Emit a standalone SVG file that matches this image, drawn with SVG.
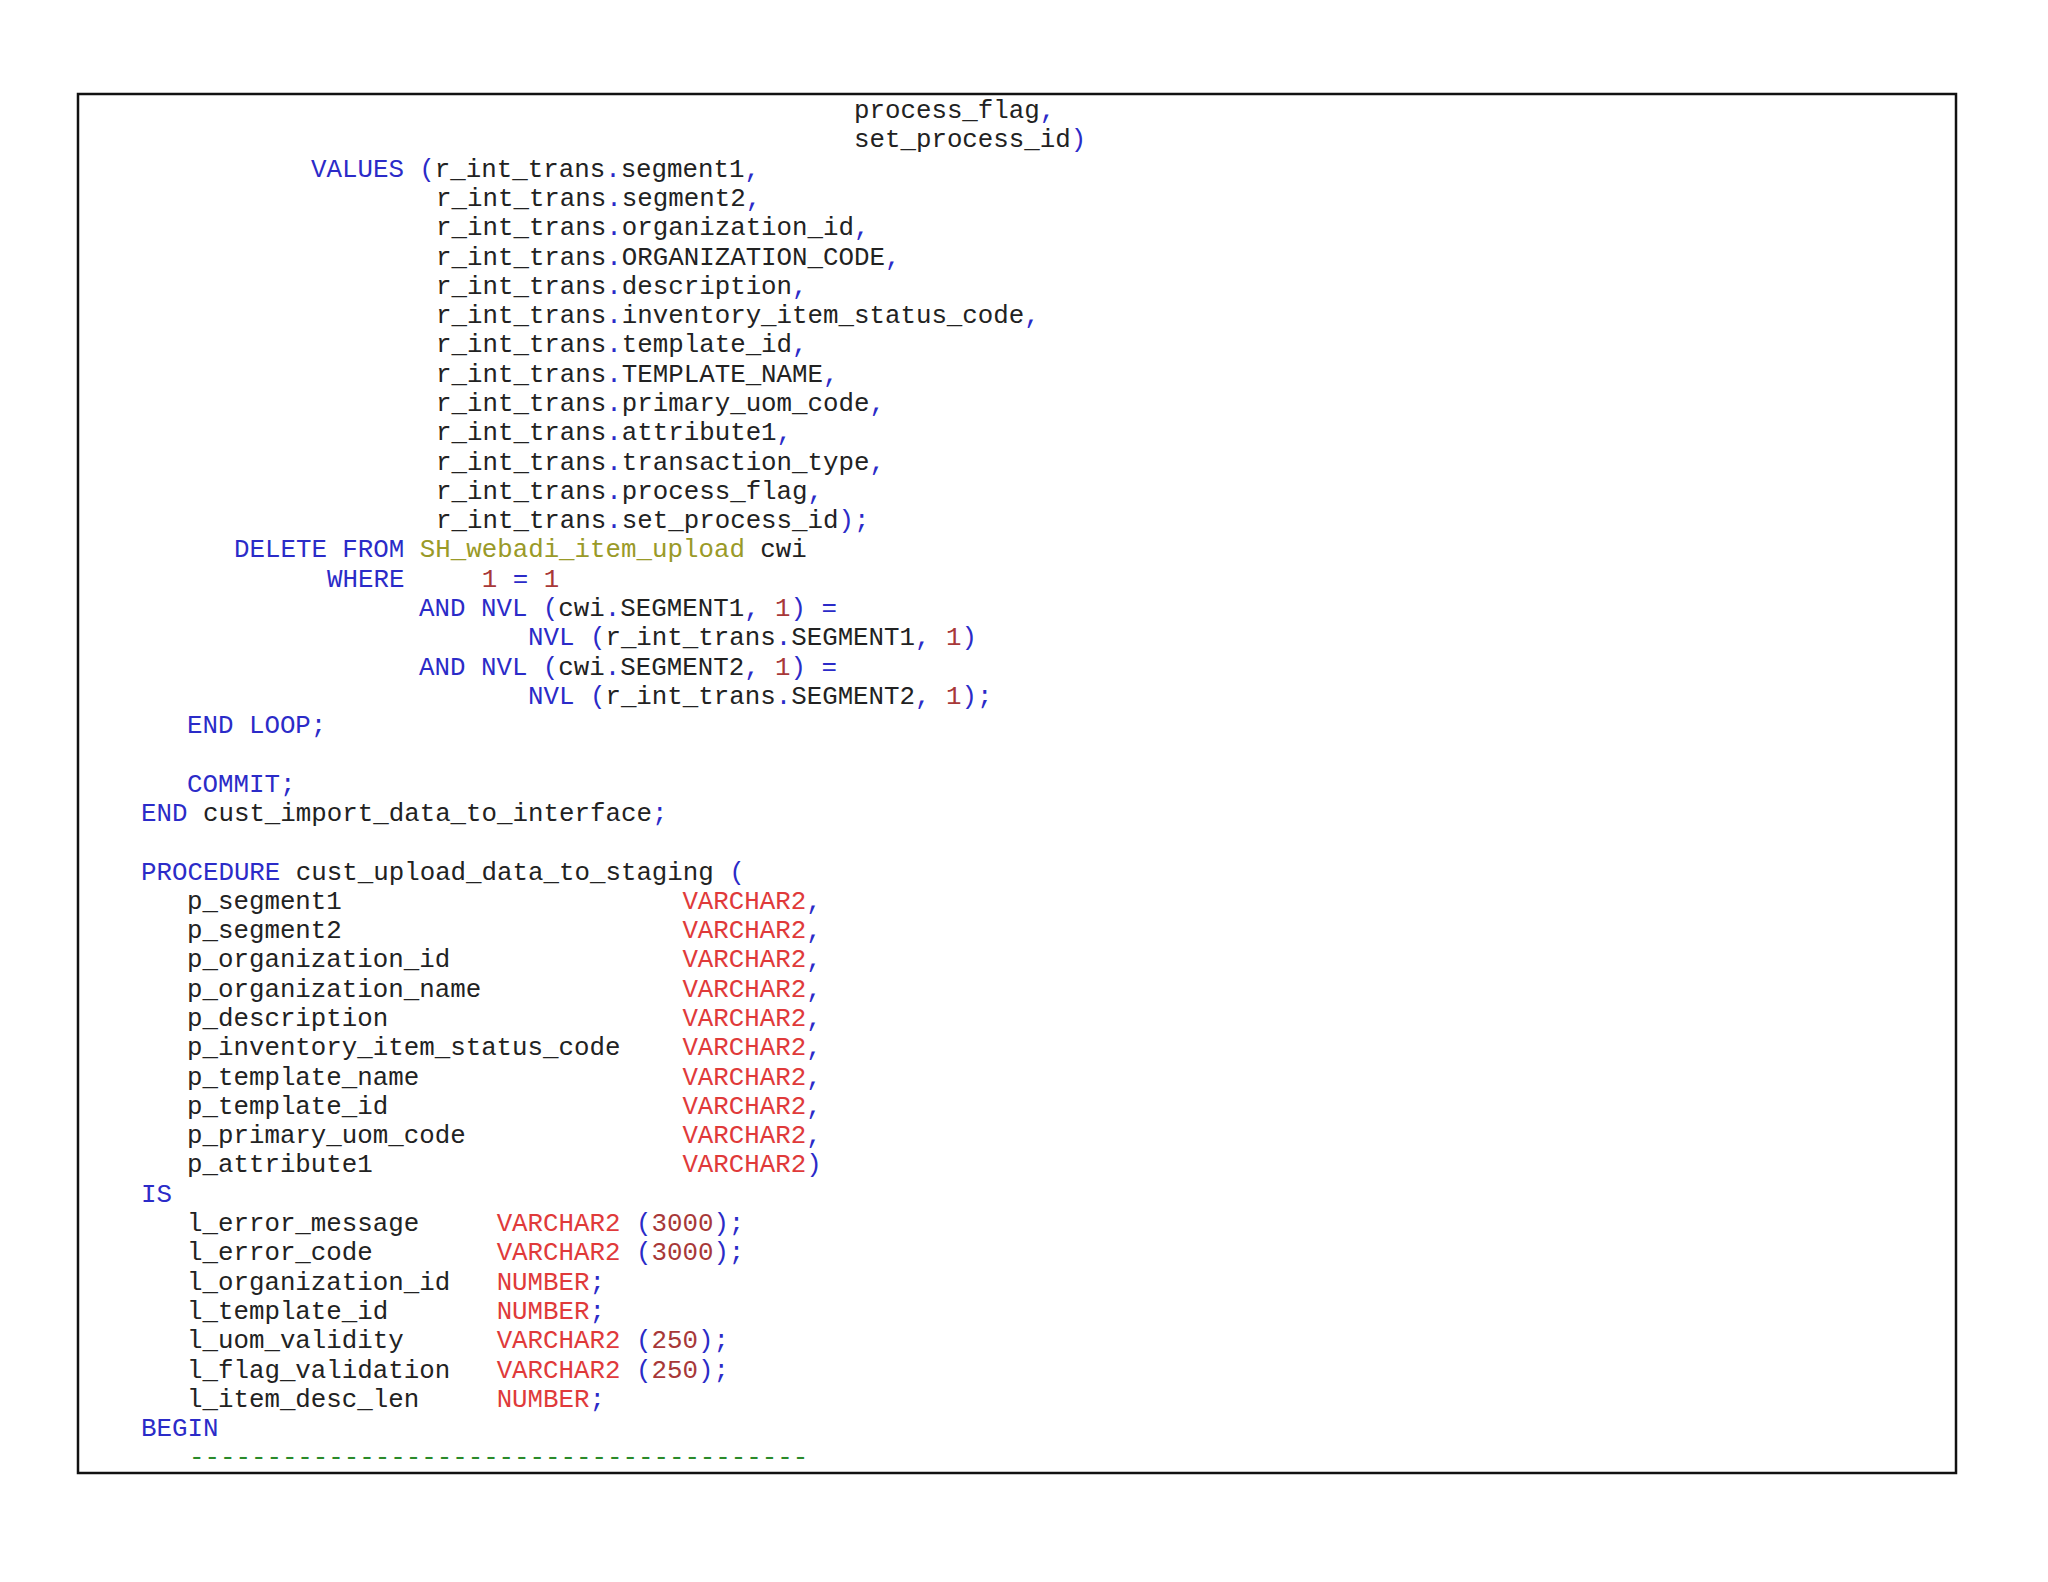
<svg xmlns="http://www.w3.org/2000/svg" width="2048" height="1582" viewBox="0 0 2048 1582">
<style>
text{font-family:"Liberation Mono","DejaVu Sans Mono",monospace;font-size:25.8px;fill:#222;white-space:pre}
.k{fill:#2b2bc8}.t{fill:#e03a3a}.n{fill:#a83838}.o{fill:#9a9a28}.g{fill:#2a8a2a}
</style>
<rect width="2048" height="1582" fill="#fff"/>
<g id="frame"><rect x="78" y="94" width="1878" height="1379" fill="none" stroke="#111" stroke-width="2.5"/></g>
<g id="code" xml:space="preserve" transform="translate(0,2)">
<text x="854" y="116">process_flag<tspan class="k">,</tspan></text>
<text x="854" y="145.3">set_process_id<tspan class="k">)</tspan></text>
<text x="311" y="174.6"><tspan class="k">VALUES (</tspan>r_int_trans<tspan class="k">.</tspan>segment1<tspan class="k">,</tspan></text>
<text x="436" y="203.9">r_int_trans<tspan class="k">.</tspan>segment2<tspan class="k">,</tspan></text>
<text x="436" y="233.2">r_int_trans<tspan class="k">.</tspan>organization_id<tspan class="k">,</tspan></text>
<text x="436" y="262.5">r_int_trans<tspan class="k">.</tspan>ORGANIZATION_CODE<tspan class="k">,</tspan></text>
<text x="436" y="291.7">r_int_trans<tspan class="k">.</tspan>description<tspan class="k">,</tspan></text>
<text x="436" y="321">r_int_trans<tspan class="k">.</tspan>inventory_item_status_code<tspan class="k">,</tspan></text>
<text x="436" y="350.3">r_int_trans<tspan class="k">.</tspan>template_id<tspan class="k">,</tspan></text>
<text x="436" y="379.6">r_int_trans<tspan class="k">.</tspan>TEMPLATE_NAME<tspan class="k">,</tspan></text>
<text x="436" y="408.9">r_int_trans<tspan class="k">.</tspan>primary_uom_code<tspan class="k">,</tspan></text>
<text x="436" y="438.2">r_int_trans<tspan class="k">.</tspan>attribute1<tspan class="k">,</tspan></text>
<text x="436" y="467.5">r_int_trans<tspan class="k">.</tspan>transaction_type<tspan class="k">,</tspan></text>
<text x="436" y="496.8">r_int_trans<tspan class="k">.</tspan>process_flag<tspan class="k">,</tspan></text>
<text x="436" y="526.1">r_int_trans<tspan class="k">.</tspan>set_process_id<tspan class="k">);</tspan></text>
<text x="234" y="555.4"><tspan class="k">DELETE FROM </tspan><tspan class="o">SH_webadi_item_upload</tspan> cwi</text>
<text x="327" y="584.6"><tspan class="k">WHERE</tspan>     <tspan class="n">1</tspan> <tspan class="k">=</tspan> <tspan class="n">1</tspan></text>
<text x="419" y="613.9"><tspan class="k">AND NVL (</tspan>cwi<tspan class="k">.</tspan>SEGMENT1<tspan class="k">,</tspan> <tspan class="n">1</tspan><tspan class="k">) =</tspan></text>
<text x="528" y="643.2"><tspan class="k">NVL (</tspan>r_int_trans<tspan class="k">.</tspan>SEGMENT1<tspan class="k">,</tspan> <tspan class="n">1</tspan><tspan class="k">)</tspan></text>
<text x="419" y="672.5"><tspan class="k">AND NVL (</tspan>cwi<tspan class="k">.</tspan>SEGMENT2<tspan class="k">,</tspan> <tspan class="n">1</tspan><tspan class="k">) =</tspan></text>
<text x="528" y="701.8"><tspan class="k">NVL (</tspan>r_int_trans<tspan class="k">.</tspan>SEGMENT2<tspan class="k">,</tspan> <tspan class="n">1</tspan><tspan class="k">);</tspan></text>
<text x="187" y="731.1" class="k">END LOOP;</text>
<text x="187" y="789.7" class="k">COMMIT;</text>
<text x="141" y="819"><tspan class="k">END</tspan> cust_import_data_to_interface<tspan class="k">;</tspan></text>
<text x="141" y="877.5"><tspan class="k">PROCEDURE</tspan> cust_upload_data_to_staging <tspan class="k">(</tspan></text>
<text x="187" y="906.8">p_segment1                      <tspan class="t">VARCHAR2</tspan><tspan class="k">,</tspan></text>
<text x="187" y="936.1">p_segment2                      <tspan class="t">VARCHAR2</tspan><tspan class="k">,</tspan></text>
<text x="187" y="965.4">p_organization_id               <tspan class="t">VARCHAR2</tspan><tspan class="k">,</tspan></text>
<text x="187" y="994.7">p_organization_name             <tspan class="t">VARCHAR2</tspan><tspan class="k">,</tspan></text>
<text x="187" y="1024">p_description                   <tspan class="t">VARCHAR2</tspan><tspan class="k">,</tspan></text>
<text x="187" y="1053.3">p_inventory_item_status_code    <tspan class="t">VARCHAR2</tspan><tspan class="k">,</tspan></text>
<text x="187" y="1082.5">p_template_name                 <tspan class="t">VARCHAR2</tspan><tspan class="k">,</tspan></text>
<text x="187" y="1111.8">p_template_id                   <tspan class="t">VARCHAR2</tspan><tspan class="k">,</tspan></text>
<text x="187" y="1141.1">p_primary_uom_code              <tspan class="t">VARCHAR2</tspan><tspan class="k">,</tspan></text>
<text x="187" y="1170.4">p_attribute1                    <tspan class="t">VARCHAR2</tspan><tspan class="k">)</tspan></text>
<text x="141" y="1199.7" class="k">IS</text>
<text x="187" y="1229">l_error_message     <tspan class="t">VARCHAR2</tspan> <tspan class="k">(</tspan><tspan class="n">3000</tspan><tspan class="k">);</tspan></text>
<text x="187" y="1258.3">l_error_code        <tspan class="t">VARCHAR2</tspan> <tspan class="k">(</tspan><tspan class="n">3000</tspan><tspan class="k">);</tspan></text>
<text x="187" y="1287.6">l_organization_id   <tspan class="t">NUMBER</tspan><tspan class="k">;</tspan></text>
<text x="187" y="1316.9">l_template_id       <tspan class="t">NUMBER</tspan><tspan class="k">;</tspan></text>
<text x="187" y="1346.2">l_uom_validity      <tspan class="t">VARCHAR2</tspan> <tspan class="k">(</tspan><tspan class="n">250</tspan><tspan class="k">);</tspan></text>
<text x="187" y="1375.5">l_flag_validation   <tspan class="t">VARCHAR2</tspan> <tspan class="k">(</tspan><tspan class="n">250</tspan><tspan class="k">);</tspan></text>
<text x="187" y="1404.7">l_item_desc_len     <tspan class="t">NUMBER</tspan><tspan class="k">;</tspan></text>
<text x="141" y="1434" class="k">BEGIN</text>
<text x="189" y="1463.3" class="g">----------------------------------------</text>
</g>
</svg>
